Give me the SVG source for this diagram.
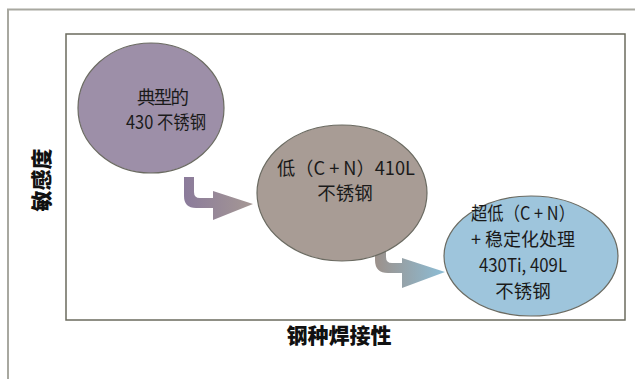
<svg xmlns="http://www.w3.org/2000/svg" width="635" height="379" viewBox="0 0 635 379">
<defs>
<style>
.t{font-family:"Noto Sans CJK SC","Liberation Sans",sans-serif;font-size:18.5px;fill:#1a1a1a;text-anchor:middle}
.lab{font-family:"Noto Sans CJK SC",sans-serif;font-size:21px;font-weight:900;fill:#111;text-anchor:middle}
.node{stroke:#6b6b62;stroke-width:1.2}
</style>
<linearGradient id="g1" x1="0" y1="0" x2="1" y2="0">
<stop offset="0" stop-color="#8b7b9b"/><stop offset="1" stop-color="#a59894"/>
</linearGradient>
<linearGradient id="g2" x1="0" y1="0" x2="1" y2="0">
<stop offset="0" stop-color="#9c918b"/><stop offset="1" stop-color="#8cbdd6"/>
</linearGradient>
</defs>
<line x1="7" y1="9.5" x2="635" y2="9.5" stroke="#a8a8a0" stroke-width="2"/>
<line x1="8" y1="9" x2="8" y2="379" stroke="#a8a8a0" stroke-width="2"/>
<rect x="66" y="34" width="559" height="286" fill="#fff" stroke="#6b6b5e" stroke-width="1.5"/>
<g id="connectors">
<path d="M184,177 H194 V192 Q194,198 200,198 H213 V191 L253,204 L213,220 V208 H196 Q184,208 184,196 Z" fill="url(#g1)"/>
<path d="M375,245 H386 V257 Q386,263 392,263 H402 V258 L445,272 L402,288 V273 H388 Q375,273 375,260 Z" fill="url(#g2)"/>
</g>
<g id="n1">
<ellipse class="node" cx="151" cy="108" rx="73" ry="65" fill="#9d8fa8"/>
<text class="t" x="163" y="104" textLength="52">典型的</text>
<text class="t" x="166" y="129" textLength="80" lengthAdjust="spacingAndGlyphs">430 不锈钢</text>
</g>
<g id="n2">
<ellipse class="node" cx="342" cy="193" rx="85" ry="68" fill="#a89c95"/>
<text class="t" x="346" y="175" textLength="138" lengthAdjust="spacingAndGlyphs">低（C + N）410L</text>
<text class="t" x="345" y="200">不锈钢</text>
</g>
<g id="n3">
<ellipse class="node" cx="531" cy="256" rx="87" ry="60" fill="#9ec5dc"/>
<text class="t" x="523" y="220" textLength="104" lengthAdjust="spacingAndGlyphs">超低（C + N）</text>
<text class="t" x="523" y="246" textLength="104" lengthAdjust="spacingAndGlyphs">+ 稳定化处理</text>
<text class="t" x="523" y="272" textLength="88" lengthAdjust="spacingAndGlyphs">430Ti, 409L</text>
<text class="t" x="523" y="298">不锈钢</text>
</g>
<text class="lab" transform="translate(42,180) rotate(-90)" y="7">敏感度</text>
<text class="lab" x="339" y="343">钢种焊接性</text>
</svg>
